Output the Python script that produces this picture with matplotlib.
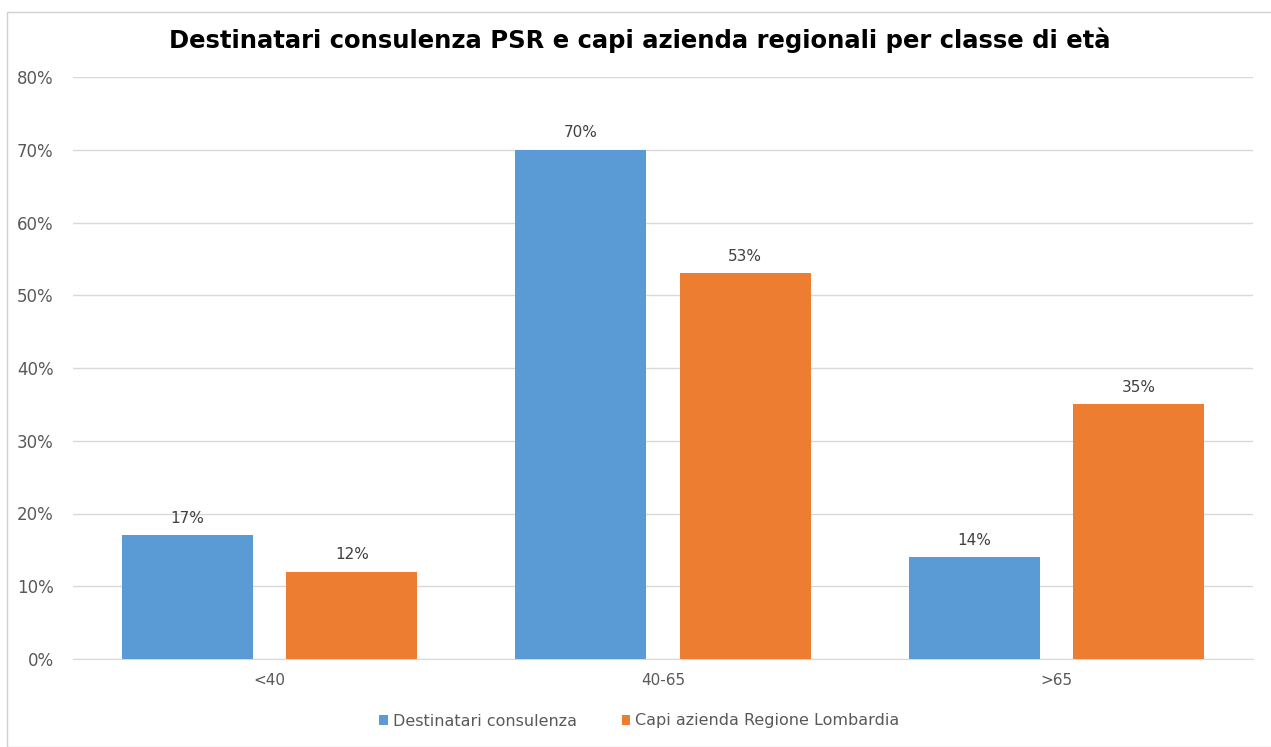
import matplotlib.pyplot as plt
from matplotlib.patches import Rectangle
import numpy as np

categories = ['<40', '40-65', '>65']
destinatari = [17, 70, 14]
capi_azienda = [12, 53, 35]
series_names = ['Destinatari consulenza', 'Capi azienda Regione Lombardia']
yticks = [0, 10, 20, 30, 40, 50, 60, 70, 80]

blue = '#5b9bd5'
orange = '#ed7d31'
grey_txt = '#595959'

fig = plt.figure(figsize=(12.71, 7.47), dpi=100)
ax = fig.add_axes([73 / 1271, 1 - 659 / 747, 1180 / 1271, 582 / 747])

# chart frame
fig.patches.append(Rectangle((7 / 1271, 0), 1.2, 1 - 12 / 747, transform=fig.transFigure,
                             fill=False, edgecolor='#d0d0d0', linewidth=1))

x = np.arange(len(categories))
w = 0.333
off = 0.209
b1 = ax.bar(x - off, destinatari, w, color=blue, label=series_names[0], zorder=3)
b2 = ax.bar(x + off, capi_azienda, w, color=orange, label=series_names[1], zorder=3)

for bars in (b1, b2):
    for r in bars:
        ax.text(r.get_x() + r.get_width() / 2, r.get_height() + 1.3, f'{r.get_height():.0f}%',
                ha='center', va='bottom', fontsize=11, color='#404040')

ax.set_xlim(-0.5, 2.5)
ax.set_ylim(0, 80)
ax.set_yticks(yticks)
ax.set_yticklabels([f'{t}%' for t in yticks])
ax.set_xticks(x)
ax.set_xticklabels(categories)
ax.tick_params(axis='both', length=0, labelsize=11, colors=grey_txt)
ax.tick_params(axis='y', labelsize=12, pad=14)
ax.tick_params(axis='x', pad=10)
ax.grid(axis='y', color='#d9d9d9', linewidth=1, zorder=0)
for s in ['top', 'right', 'left']:
    ax.spines[s].set_visible(False)
ax.spines['bottom'].set_color('#d9d9d9')

fig.text(0.503, 1 - 40 / 747, 'Destinatari consulenza PSR e capi azienda regionali per classe di età',
         ha='center', va='center', fontsize=17.5, fontweight='bold', color='black')

fig.legend(handles=[b1, b2], loc='center', bbox_to_anchor=(0.503, 1 - 721 / 747), ncol=2,
           frameon=False, fontsize=11.5, handlelength=0.55, handleheight=0.55,
           columnspacing=2.8, handletextpad=0.3, labelcolor=grey_txt)

fig.savefig('out.png', dpi=100)
